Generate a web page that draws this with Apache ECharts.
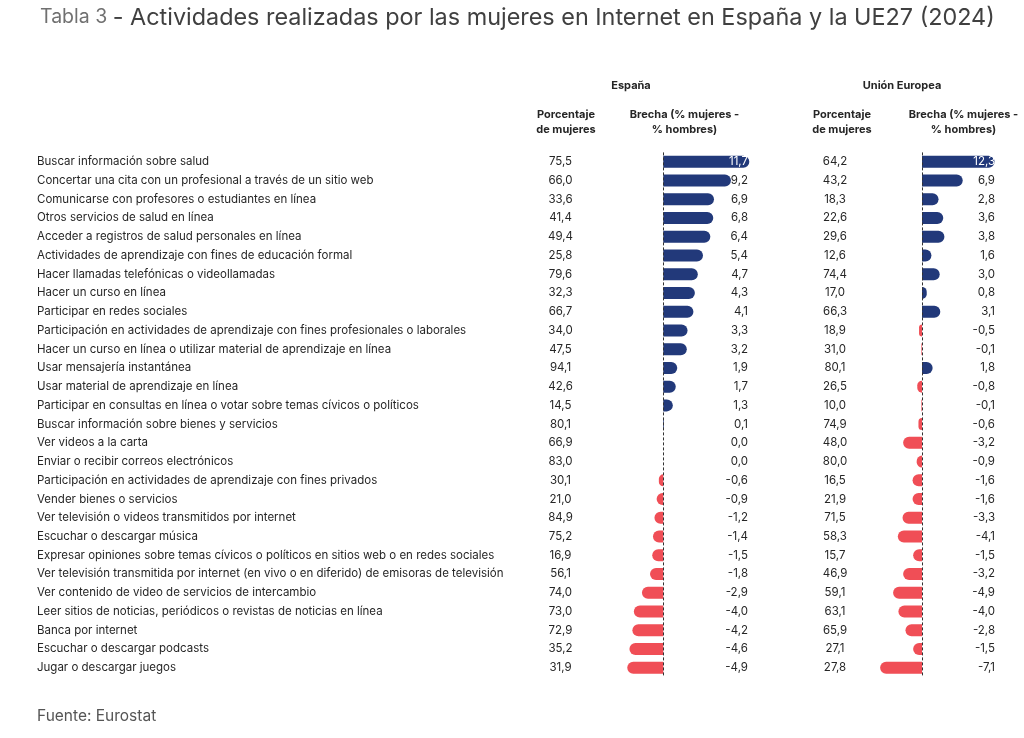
<!DOCTYPE html>
<html>
<head>
<meta charset="utf-8">
<script src="https://cdn.jsdelivr.net/npm/echarts@6/dist/echarts.min.js"></script>
<style>
html,body{margin:0;padding:0;background:#fff;}
#c{width:1024px;height:738px;}
</style>
</head>
<body>
<div id="c"></div>
<script>
const categories = [
  "Buscar información sobre salud",
  "Concertar una cita con un profesional a través de un sitio web",
  "Comunicarse con profesores o estudiantes en línea",
  "Otros servicios de salud en línea",
  "Acceder a registros de salud personales en línea",
  "Actividades de aprendizaje con fines de educación formal",
  "Hacer llamadas telefónicas o videollamadas",
  "Hacer un curso en línea",
  "Participar en redes sociales",
  "Participación en actividades de aprendizaje con fines profesionales o laborales",
  "Hacer un curso en línea o utilizar material de aprendizaje en línea",
  "Usar mensajería instantánea",
  "Usar material de aprendizaje en línea",
  "Participar en consultas en línea o votar sobre temas cívicos o políticos",
  "Buscar información sobre bienes y servicios",
  "Ver videos a la carta",
  "Enviar o recibir correos electrónicos",
  "Participación en actividades de aprendizaje con fines privados",
  "Vender bienes o servicios",
  "Ver televisión o videos transmitidos por internet",
  "Escuchar o descargar música",
  "Expresar opiniones sobre temas cívicos o políticos en sitios web o en redes sociales",
  "Ver televisión transmitida por internet (en vivo o en diferido) de emisoras de televisión",
  "Ver contenido de video de servicios de intercambio",
  "Leer sitios de noticias, periódicos o revistas de noticias en línea",
  "Banca por internet",
  "Escuchar o descargar podcasts",
  "Jugar o descargar juegos"
];
const pctES = [75.5,66.0,33.6,41.4,49.4,25.8,79.6,32.3,66.7,34.0,47.5,94.1,42.6,14.5,80.1,66.9,83.0,30.1,21.0,84.9,75.2,16.9,56.1,74.0,73.0,72.9,35.2,31.9];
const gapES = [11.7,9.2,6.9,6.8,6.4,5.4,4.7,4.3,4.1,3.3,3.2,1.9,1.7,1.3,0.1,0.0,0.0,-0.6,-0.9,-1.2,-1.4,-1.5,-1.8,-2.9,-4.0,-4.2,-4.6,-4.9];
const pctUE = [64.2,43.2,18.3,22.6,29.6,12.6,74.4,17.0,66.3,18.9,31.0,80.1,26.5,10.0,74.9,48.0,80.0,16.5,21.9,71.5,58.3,15.7,46.9,59.1,63.1,65.9,27.1,27.8];
const gapUE = [12.3,6.9,2.8,3.6,3.8,1.6,3.0,0.8,3.1,-0.5,-0.1,1.8,-0.8,-0.1,-0.6,-3.2,-0.9,-1.6,-1.6,-3.3,-4.1,-1.5,-3.2,-4.9,-4.0,-2.8,-1.5,-7.1];

const NAVY = '#22397a', RED = '#f04e56', TXT = '#262626';
const FONT = 'Inter';
const fmt = v => v.toFixed(1).replace('.', ',');

const gTop = 152.4, gHeight = 524.7;
const esLeft = 626.5, esWidth = 125, esMin = -5, esMax = 12;
const ueLeft = 874.8, ueWidth = 123.9, ueMin = -8, ueMax = 13;

function barData(arr){
  return arr.map(v => ({
    value: v,
    itemStyle: {
      color: v >= 0 ? NAVY : RED,
      borderRadius: v >= 0 ? [0,6,6,0] : [6,0,0,6]
    }
  }));
}
const hidden = {axisLine:{show:false}, axisTick:{show:false}, splitLine:{show:false}};
function catAxis(grid, extra){
  return Object.assign({type:'category', gridIndex:grid, data:categories, inverse:true}, hidden, extra);
}
const lblBase = {fontFamily:FONT, fontSize:11.5, color:TXT};

const chart = echarts.init(document.getElementById('c'));
chart.setOption({
  animation:false,
  backgroundColor:'#fff',
  title:{
    left:40, top:6, padding:0,
    text:'{a|Tabla 3 }{b|- Actividades realizadas por las mujeres en Internet en España y la UE27 (2024)}',
    textStyle:{fontWeight:'normal', rich:{
      a:{fontFamily:FONT, fontSize:19.5, fontWeight:'normal', color:'#707070'},
      b:{fontFamily:FONT, fontSize:23.4, fontWeight:'normal', color:'#404040'}
    }}
  },
  graphic:[
    {type:'text', left:37, top:708, style:{text:'Fuente: Eurostat', font:'15.5px Inter', fill:'#555'}},
    {type:'text', x:631, y:86, style:{text:'España', font:'bold 11px Inter', fill:TXT, textAlign:'center', textVerticalAlign:'middle'}},
    {type:'text', x:902, y:86, style:{text:'Unión Europea', font:'bold 11px Inter', fill:TXT, textAlign:'center', textVerticalAlign:'middle'}},
    {type:'text', x:566, y:122.5, style:{text:'Porcentaje\nde mujeres', font:'bold 11px Inter', fill:TXT, textAlign:'center', textVerticalAlign:'middle', lineHeight:15}},
    {type:'text', x:684.5, y:122.5, style:{text:'Brecha (% mujeres -\n% hombres)', font:'bold 11px Inter', fill:TXT, textAlign:'center', textVerticalAlign:'middle', lineHeight:15}},
    {type:'text', x:842, y:122.5, style:{text:'Porcentaje\nde mujeres', font:'bold 11px Inter', fill:TXT, textAlign:'center', textVerticalAlign:'middle', lineHeight:15}},
    {type:'text', x:963.5, y:122.5, style:{text:'Brecha (% mujeres -\n% hombres)', font:'bold 11px Inter', fill:TXT, textAlign:'center', textVerticalAlign:'middle', lineHeight:15}}
  ],
  grid:[
    {left:esLeft, top:gTop, width:esWidth, height:gHeight},
    {left:ueLeft, top:gTop, width:ueWidth, height:gHeight}
  ],
  xAxis:[
    Object.assign({type:'value', gridIndex:0, min:esMin, max:esMax, axisLabel:{show:false}}, hidden),
    Object.assign({type:'value', gridIndex:1, min:ueMin, max:ueMax, axisLabel:{show:false}}, hidden)
  ],
  yAxis:[
    catAxis(0, {position:'left', axisLabel:Object.assign({}, lblBase, {align:'left', margin:esLeft-37})}),
    catAxis(0, {position:'left', axisLabel:Object.assign({}, lblBase, {align:'center', margin:esLeft-560.5,
      formatter:(v,i)=>fmt(pctES[i])})}),
    catAxis(0, {position:'right', z:10, axisLabel:Object.assign({}, lblBase, {align:'right', margin:748-(esLeft+esWidth),
      formatter:(v,i)=>fmt(gapES[i]), color:(v,i)=> i===0 ? '#fff' : TXT})}),
    catAxis(1, {position:'left', axisLabel:Object.assign({}, lblBase, {align:'center', margin:ueLeft-835,
      formatter:(v,i)=>fmt(pctUE[i])})}),
    catAxis(1, {position:'right', z:10, axisLabel:Object.assign({}, lblBase, {align:'right', margin:995-(ueLeft+ueWidth),
      formatter:(v,i)=>fmt(gapUE[i]), color:(v,i)=> i===0 ? '#fff' : TXT})})
  ],
  series:[
    {type:'bar', xAxisIndex:0, yAxisIndex:0, barWidth:12, data:barData(gapES),
     markLine:{silent:true, symbol:'none', label:{show:false}, lineStyle:{color:'#333', type:[3,2], width:1}, data:[{xAxis:0}]}},
    {type:'bar', xAxisIndex:1, yAxisIndex:3, barWidth:12, data:barData(gapUE),
     markLine:{silent:true, symbol:'none', label:{show:false}, lineStyle:{color:'#333', type:[3,2], width:1}, data:[{xAxis:0}]}}
  ]
});
</script>
</body>
</html>
